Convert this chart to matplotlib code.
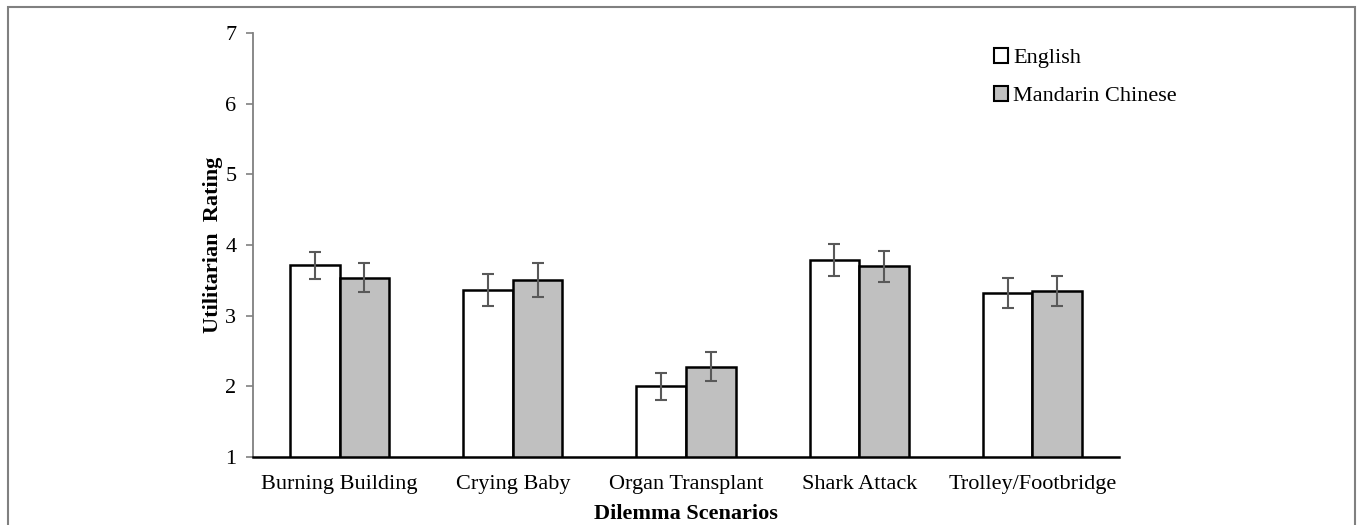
import numpy as np
import matplotlib
matplotlib.use("Agg")
import matplotlib.pyplot as plt
from matplotlib.patches import Patch, Rectangle

# Data
scenarios = ["Burning Building", "Crying Baby", "Organ Transplant",
             "Shark Attack", "Trolley/Footbridge"]
english = [3.71, 3.36, 2.00, 3.79, 3.32]
english_err = [0.19, 0.23, 0.19, 0.23, 0.21]
mandarin = [3.54, 3.50, 2.28, 3.70, 3.35]
mandarin_err = [0.20, 0.24, 0.20, 0.22, 0.21]
series_names = ["English", "Mandarin Chinese"]
y_ticks = [1, 2, 3, 4, 5, 6, 7]

plt.rcParams["font.family"] = ["Liberation Serif", "DejaVu Serif"]

W, H = 1357, 525
fig = plt.figure(figsize=(W / 100, H / 100), dpi=100)
ax = fig.add_axes([253 / W, (H - 457) / H, (1119 - 253) / W, (457 - 33) / H])

x = np.arange(len(scenarios))
bw = 0.286
err_kw = dict(ecolor="#595959", elinewidth=1.5, capsize=4, capthick=1.5)

ax.bar(x - bw / 2, english, bw, color="white", edgecolor="black",
       linewidth=1.8, yerr=english_err, error_kw=err_kw, label=series_names[0])
ax.bar(x + bw / 2, mandarin, bw, color="#c0c0c0", edgecolor="black",
       linewidth=1.8, yerr=mandarin_err, error_kw=err_kw, label=series_names[1])

ax.set_xlim(-0.5, len(scenarios) - 0.5)
ax.set_ylim(1, 7)
ax.set_yticks(y_ticks)
ax.set_xticks(x)
ax.set_xticklabels(scenarios, fontsize=16)
ax.tick_params(axis="x", length=0, pad=13)
ax.tick_params(axis="y", length=5, width=1.2, color="#808080", pad=7, labelsize=16)

for side in ["top", "right"]:
    ax.spines[side].set_visible(False)
ax.spines["left"].set_color("#808080")
ax.spines["left"].set_linewidth(1.3)
ax.spines["bottom"].set_color("black")
ax.spines["bottom"].set_linewidth(1.8)

ax.set_ylabel("Utilitarian  Rating", fontsize=16, fontweight="bold")
ax.yaxis.set_label_coords(-0.035, 0.5)
ax.set_xlabel("Dilemma Scenarios", fontsize=16, fontweight="bold")
ax.xaxis.set_label_coords(0.5, -0.112)

# legend with small square swatches
handles = [Patch(facecolor="white", edgecolor="black", linewidth=1.5),
           Patch(facecolor="#c0c0c0", edgecolor="black", linewidth=1.5)]
fig.legend(handles, series_names, loc="upper left",
           bbox_to_anchor=(994 / W, (H - 48) / H), frameon=False,
           fontsize=16, handlelength=0.65, handleheight=0.65,
           handletextpad=0.2, labelspacing=0.8, borderpad=0, borderaxespad=0)

# thin gray frame around the figure (bottom edge is cut off)
fig.patches.append(Rectangle((8 / W, -0.1), (1355 - 8) / W, (H - 7) / H + 0.1,
                             transform=fig.transFigure, fill=False,
                             edgecolor="#808080", linewidth=1.5))

fig.savefig("out.png", dpi=100)
